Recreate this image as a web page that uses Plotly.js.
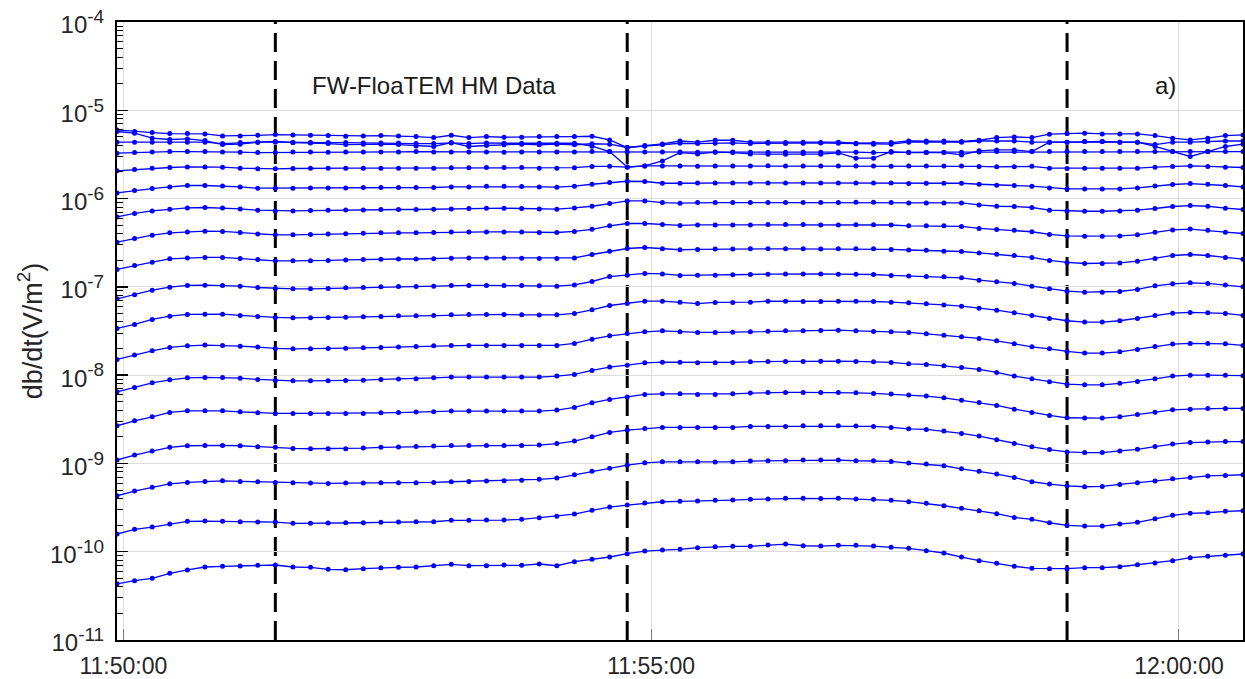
<!DOCTYPE html>
<html><head><meta charset="utf-8">
<script src="https://cdn.plot.ly/plotly-3.0.1.min.js"></script>
<style>html,body{margin:0;padding:0;background:#fff}#chart{width:1245px;height:679px}</style>
</head><body><div id="chart"></div>
<script>
// sample times (10 s cadence)
const sampleTimes = [
"11:49:56.4","11:50:06.4","11:50:16.4","11:50:26.4","11:50:36.4","11:50:46.4","11:50:56.4",
"11:51:06.4","11:51:16.4","11:51:26.4","11:51:36.4","11:51:46.4","11:51:56.4",
"11:52:06.4","11:52:16.4","11:52:26.4","11:52:36.4","11:52:46.4","11:52:56.4",
"11:53:06.4","11:53:16.4","11:53:26.4","11:53:36.4","11:53:46.4","11:53:56.4",
"11:54:06.4","11:54:16.4","11:54:26.4","11:54:36.4","11:54:46.4","11:54:56.4",
"11:55:06.4","11:55:16.4","11:55:26.4","11:55:36.4","11:55:46.4","11:55:56.4",
"11:56:06.4","11:56:16.4","11:56:26.4","11:56:36.4","11:56:46.4","11:56:56.4",
"11:57:06.4","11:57:16.4","11:57:26.4","11:57:36.4","11:57:46.4","11:57:56.4",
"11:58:06.4","11:58:16.4","11:58:26.4","11:58:36.4","11:58:46.4","11:58:56.4",
"11:59:06.4","11:59:16.4","11:59:26.4","11:59:36.4","11:59:46.4","11:59:56.4",
"12:00:06.4","12:00:16.4","12:00:26.4","12:00:36.4"];

const gate01 = [5.99e-6,5.75e-6,5.59e-6,5.45e-6,5.45e-6,5.40e-6,5.12e-6,5.12e-6,5.21e-6,5.31e-6,
5.26e-6,5.21e-6,5.17e-6,5.08e-6,5.12e-6,5.17e-6,5.12e-6,5.04e-6,4.91e-6,5.21e-6,
4.91e-6,5.04e-6,4.95e-6,4.95e-6,5.04e-6,5.04e-6,5.04e-6,5.08e-6,4.62e-6,3.79e-6,
3.99e-6,4.16e-6,4.49e-6,4.35e-6,4.58e-6,4.58e-6,4.35e-6,4.35e-6,4.31e-6,4.35e-6,
4.31e-6,4.35e-6,4.23e-6,4.23e-6,4.31e-6,4.49e-6,4.49e-6,4.49e-6,4.43e-6,4.58e-6,
4.91e-6,4.99e-6,4.91e-6,5.36e-6,5.45e-6,5.50e-6,5.40e-6,5.40e-6,5.40e-6,5.17e-6,
4.83e-6,4.62e-6,4.83e-6,5.17e-6,5.26e-6];
const gate02 = [5.75e-6,5.50e-6,4.83e-6,4.67e-6,4.74e-6,4.54e-6,4.09e-6,4.13e-6,4.35e-6,4.43e-6,
4.31e-6,4.27e-6,4.20e-6,4.09e-6,4.13e-6,4.13e-6,4.09e-6,3.95e-6,3.89e-6,4.31e-6,
3.89e-6,3.99e-6,4.07e-6,4.13e-6,4.07e-6,4.13e-6,4.07e-6,4.18e-6,4.13e-6,3.79e-6,
3.92e-6,4.09e-6,4.23e-6,4.20e-6,4.23e-6,4.27e-6,4.20e-6,4.23e-6,4.20e-6,4.23e-6,
4.27e-6,4.23e-6,4.18e-6,4.13e-6,4.13e-6,4.35e-6,4.35e-6,4.35e-6,4.35e-6,4.49e-6,
4.49e-6,4.49e-6,4.35e-6,4.35e-6,4.35e-6,4.43e-6,4.43e-6,4.35e-6,4.35e-6,4.09e-6,
4.35e-6,4.35e-6,4.43e-6,4.49e-6,4.49e-6];
const gate03 = [4.35e-6,4.35e-6,4.35e-6,4.35e-6,4.35e-6,4.35e-6,4.20e-6,4.31e-6,4.35e-6,4.35e-6,
4.31e-6,4.31e-6,4.31e-6,4.31e-6,4.27e-6,4.27e-6,4.27e-6,4.20e-6,4.20e-6,4.27e-6,
4.20e-6,4.27e-6,4.23e-6,4.23e-6,4.23e-6,4.23e-6,4.23e-6,3.92e-6,3.41e-6,2.28e-6,
2.34e-6,2.67e-6,3.32e-6,3.20e-6,3.35e-6,3.32e-6,3.20e-6,3.18e-6,3.18e-6,3.23e-6,
3.18e-6,3.29e-6,2.87e-6,2.87e-6,3.41e-6,3.32e-6,3.32e-6,3.32e-6,3.12e-6,3.47e-6,
3.56e-6,3.56e-6,3.41e-6,4.35e-6,4.35e-6,4.43e-6,4.43e-6,4.35e-6,4.35e-6,3.89e-6,
3.41e-6,3.00e-6,3.41e-6,3.89e-6,4.13e-6];
const gate04 = [3.27e-6,3.32e-6,3.38e-6,3.41e-6,3.41e-6,3.41e-6,3.38e-6,3.35e-6,3.32e-6,3.32e-6,
3.38e-6,3.38e-6,3.35e-6,3.38e-6,3.38e-6,3.38e-6,3.38e-6,3.41e-6,3.38e-6,3.38e-6,
3.38e-6,3.38e-6,3.35e-6,3.38e-6,3.38e-6,3.38e-6,3.38e-6,3.41e-6,3.41e-6,3.38e-6,
3.38e-6,3.38e-6,3.38e-6,3.35e-6,3.38e-6,3.38e-6,3.35e-6,3.35e-6,3.35e-6,3.38e-6,
3.35e-6,3.38e-6,3.35e-6,3.32e-6,3.35e-6,3.35e-6,3.35e-6,3.35e-6,3.35e-6,3.38e-6,
3.41e-6,3.41e-6,3.41e-6,3.41e-6,3.41e-6,3.41e-6,3.41e-6,3.41e-6,3.41e-6,3.41e-6,
3.41e-6,3.41e-6,3.41e-6,3.41e-6,3.41e-6];
const gate05 = [2.06e-6,2.13e-6,2.21e-6,2.25e-6,2.28e-6,2.28e-6,2.27e-6,2.21e-6,2.17e-6,2.17e-6,
2.19e-6,2.21e-6,2.21e-6,2.21e-6,2.21e-6,2.21e-6,2.21e-6,2.21e-6,2.21e-6,2.23e-6,
2.23e-6,2.25e-6,2.25e-6,2.25e-6,2.21e-6,2.21e-6,2.24e-6,2.31e-6,2.32e-6,2.27e-6,
2.34e-6,2.34e-6,2.34e-6,2.33e-6,2.34e-6,2.34e-6,2.34e-6,2.35e-6,2.34e-6,2.34e-6,
2.34e-6,2.34e-6,2.34e-6,2.34e-6,2.33e-6,2.34e-6,2.34e-6,2.34e-6,2.34e-6,2.31e-6,
2.29e-6,2.29e-6,2.32e-6,2.21e-6,2.19e-6,2.21e-6,2.21e-6,2.21e-6,2.21e-6,2.27e-6,
2.31e-6,2.34e-6,2.31e-6,2.27e-6,2.25e-6];
const gate06 = [1.160e-6,1.234e-6,1.299e-6,1.356e-6,1.406e-6,1.406e-6,1.391e-6,1.356e-6,1.310e-6,1.310e-6,
1.310e-6,1.320e-6,1.320e-6,1.320e-6,1.334e-6,1.334e-6,1.334e-6,1.334e-6,1.334e-6,1.356e-6,
1.356e-6,1.380e-6,1.380e-6,1.369e-6,1.356e-6,1.345e-6,1.380e-6,1.453e-6,1.520e-6,1.572e-6,
1.560e-6,1.491e-6,1.491e-6,1.503e-6,1.503e-6,1.503e-6,1.503e-6,1.503e-6,1.503e-6,1.503e-6,
1.503e-6,1.503e-6,1.503e-6,1.503e-6,1.503e-6,1.480e-6,1.491e-6,1.491e-6,1.491e-6,1.453e-6,
1.417e-6,1.406e-6,1.380e-6,1.320e-6,1.286e-6,1.286e-6,1.286e-6,1.286e-6,1.320e-6,1.391e-6,
1.443e-6,1.480e-6,1.453e-6,1.406e-6,1.356e-6];
const gate07 = [6.20e-7,6.78e-7,7.24e-7,7.58e-7,7.84e-7,7.92e-7,7.84e-7,7.64e-7,7.38e-7,7.25e-7,
7.25e-7,7.32e-7,7.38e-7,7.44e-7,7.44e-7,7.52e-7,7.52e-7,7.52e-7,7.58e-7,7.64e-7,
7.72e-7,7.78e-7,7.78e-7,7.72e-7,7.64e-7,7.58e-7,7.84e-7,8.19e-7,8.79e-7,9.41e-7,
9.41e-7,9.02e-7,8.86e-7,9.02e-7,9.02e-7,9.02e-7,9.02e-7,9.02e-7,9.02e-7,9.02e-7,
9.02e-7,9.02e-7,9.10e-7,9.10e-7,9.02e-7,8.93e-7,8.93e-7,8.93e-7,8.93e-7,8.48e-7,
8.19e-7,8.13e-7,7.92e-7,7.38e-7,7.24e-7,7.18e-7,7.18e-7,7.24e-7,7.38e-7,7.72e-7,
8.13e-7,8.34e-7,8.19e-7,7.78e-7,7.52e-7];
const gate08 = [3.21e-7,3.53e-7,3.85e-7,4.09e-7,4.19e-7,4.27e-7,4.24e-7,4.13e-7,3.96e-7,3.88e-7,
3.88e-7,3.92e-7,3.96e-7,3.99e-7,4.05e-7,4.09e-7,4.09e-7,4.09e-7,4.13e-7,4.19e-7,
4.19e-7,4.19e-7,4.19e-7,4.19e-7,4.13e-7,4.13e-7,4.24e-7,4.48e-7,4.91e-7,5.22e-7,
5.22e-7,5.08e-7,4.96e-7,5.03e-7,5.03e-7,5.03e-7,5.03e-7,5.08e-7,5.08e-7,5.08e-7,
5.03e-7,5.03e-7,5.06e-7,5.06e-7,5.02e-7,4.91e-7,4.91e-7,4.91e-7,4.84e-7,4.59e-7,
4.45e-7,4.37e-7,4.21e-7,3.93e-7,3.77e-7,3.75e-7,3.75e-7,3.77e-7,3.88e-7,4.16e-7,
4.42e-7,4.51e-7,4.37e-7,4.16e-7,4.02e-7];
const gate09 = [1.574e-7,1.747e-7,1.904e-7,2.075e-7,2.129e-7,2.152e-7,2.152e-7,2.096e-7,2.043e-7,1.970e-7,
1.970e-7,1.970e-7,1.990e-7,2.021e-7,2.043e-7,2.059e-7,2.069e-7,2.069e-7,2.075e-7,2.113e-7,
2.129e-7,2.129e-7,2.129e-7,2.113e-7,2.096e-7,2.096e-7,2.129e-7,2.326e-7,2.535e-7,2.720e-7,
2.792e-7,2.694e-7,2.633e-7,2.658e-7,2.676e-7,2.676e-7,2.694e-7,2.694e-7,2.694e-7,2.694e-7,
2.676e-7,2.694e-7,2.694e-7,2.694e-7,2.658e-7,2.614e-7,2.596e-7,2.535e-7,2.515e-7,2.426e-7,
2.345e-7,2.267e-7,2.152e-7,1.990e-7,1.889e-7,1.840e-7,1.840e-7,1.869e-7,1.955e-7,2.096e-7,
2.267e-7,2.326e-7,2.267e-7,2.152e-7,2.059e-7];
const gate10 = [7.31e-8,8.12e-8,9.17e-8,9.92e-8,1.037e-7,1.045e-7,1.037e-7,1.019e-7,9.84e-8,9.59e-8,
9.49e-8,9.49e-8,9.59e-8,9.74e-8,9.84e-8,1.000e-7,1.010e-7,1.012e-7,1.019e-7,1.037e-7,
1.037e-7,1.037e-7,1.037e-7,1.037e-7,1.027e-7,1.019e-7,1.053e-7,1.150e-7,1.307e-7,1.357e-7,
1.418e-7,1.402e-7,1.346e-7,1.357e-7,1.357e-7,1.368e-7,1.381e-7,1.393e-7,1.402e-7,1.402e-7,
1.398e-7,1.393e-7,1.393e-7,1.381e-7,1.346e-7,1.331e-7,1.307e-7,1.298e-7,1.264e-7,1.190e-7,
1.139e-7,1.093e-7,1.019e-7,9.49e-8,8.93e-8,8.71e-8,8.71e-8,8.86e-8,9.34e-8,1.027e-7,
1.082e-7,1.110e-7,1.093e-7,1.053e-7,1.000e-7];
const gate11 = [3.38e-8,3.75e-8,4.28e-8,4.66e-8,4.87e-8,4.91e-8,4.91e-8,4.75e-8,4.62e-8,4.50e-8,
4.46e-8,4.46e-8,4.50e-8,4.54e-8,4.58e-8,4.62e-8,4.70e-8,4.72e-8,4.75e-8,4.82e-8,
4.87e-8,4.87e-8,4.87e-8,4.82e-8,4.79e-8,4.82e-8,5.00e-8,5.49e-8,6.15e-8,6.46e-8,
6.89e-8,6.89e-8,6.71e-8,6.46e-8,6.66e-8,6.66e-8,6.71e-8,6.89e-8,6.89e-8,6.83e-8,
6.83e-8,6.89e-8,6.89e-8,6.83e-8,6.71e-8,6.59e-8,6.42e-8,6.25e-8,6.04e-8,5.74e-8,
5.45e-8,5.08e-8,4.75e-8,4.39e-8,4.13e-8,3.99e-8,3.99e-8,4.13e-8,4.39e-8,4.75e-8,
5.04e-8,5.13e-8,5.08e-8,5.00e-8,4.75e-8];
const gate12 = [1.507e-8,1.686e-8,1.886e-8,2.060e-8,2.148e-8,2.188e-8,2.171e-8,2.131e-8,2.077e-8,2.008e-8,
1.987e-8,1.987e-8,2.008e-8,2.023e-8,2.039e-8,2.060e-8,2.077e-8,2.116e-8,2.148e-8,2.171e-8,
2.171e-8,2.171e-8,2.171e-8,2.171e-8,2.171e-8,2.171e-8,2.286e-8,2.558e-8,2.788e-8,2.963e-8,
3.093e-8,3.176e-8,3.093e-8,3.045e-8,3.045e-8,3.069e-8,3.093e-8,3.151e-8,3.176e-8,3.176e-8,
3.209e-8,3.235e-8,3.176e-8,3.127e-8,3.093e-8,3.045e-8,2.936e-8,2.839e-8,2.716e-8,2.605e-8,
2.447e-8,2.263e-8,2.093e-8,1.987e-8,1.857e-8,1.776e-8,1.776e-8,1.837e-8,1.956e-8,2.116e-8,
2.246e-8,2.286e-8,2.286e-8,2.263e-8,2.171e-8];
const gate13 = [6.47e-9,7.26e-9,8.18e-9,8.85e-9,9.32e-9,9.42e-9,9.42e-9,9.25e-9,8.94e-9,8.72e-9,
8.63e-9,8.63e-9,8.63e-9,8.72e-9,8.78e-9,8.94e-9,9.02e-9,9.09e-9,9.32e-9,9.50e-9,
9.50e-9,9.50e-9,9.50e-9,9.50e-9,9.50e-9,9.75e-9,1.019e-8,1.131e-8,1.233e-8,1.298e-8,
1.379e-8,1.404e-8,1.404e-8,1.379e-8,1.379e-8,1.393e-8,1.416e-8,1.430e-8,1.430e-8,1.430e-8,
1.441e-8,1.441e-8,1.430e-8,1.416e-8,1.393e-8,1.344e-8,1.323e-8,1.275e-8,1.223e-8,1.161e-8,
1.074e-8,9.75e-9,9.09e-9,8.40e-9,7.91e-9,7.77e-9,7.77e-9,8.08e-9,8.49e-9,9.09e-9,
9.75e-9,1.000e-8,1.000e-8,1.000e-8,9.85e-9];
const gate14 = [2.669e-9,3.041e-9,3.375e-9,3.785e-9,3.946e-9,3.946e-9,3.946e-9,3.845e-9,3.746e-9,3.686e-9,
3.686e-9,3.686e-9,3.686e-9,3.686e-9,3.686e-9,3.746e-9,3.766e-9,3.834e-9,3.845e-9,3.915e-9,
3.915e-9,3.915e-9,3.915e-9,3.915e-9,3.915e-9,4.016e-9,4.310e-9,4.860e-9,5.310e-9,5.667e-9,
6.05e-9,6.15e-9,6.15e-9,6.05e-9,6.05e-9,6.15e-9,6.26e-9,6.37e-9,6.37e-9,6.37e-9,
6.37e-9,6.37e-9,6.31e-9,6.21e-9,6.10e-9,5.94e-9,5.79e-9,5.54e-9,5.21e-9,4.91e-9,
4.54e-9,4.12e-9,3.785e-9,3.50e-9,3.29e-9,3.26e-9,3.26e-9,3.375e-9,3.59e-9,3.81e-9,
4.05e-9,4.12e-9,4.20e-9,4.20e-9,4.20e-9];
const gate15 = [1.092e-9,1.243e-9,1.380e-9,1.520e-9,1.585e-9,1.601e-9,1.601e-9,1.585e-9,1.542e-9,1.520e-9,
1.480e-9,1.466e-9,1.466e-9,1.466e-9,1.492e-9,1.520e-9,1.531e-9,1.551e-9,1.572e-9,1.593e-9,
1.593e-9,1.593e-9,1.593e-9,1.601e-9,1.614e-9,1.678e-9,1.791e-9,2.004e-9,2.246e-9,2.385e-9,
2.494e-9,2.560e-9,2.560e-9,2.560e-9,2.560e-9,2.560e-9,2.627e-9,2.627e-9,2.627e-9,2.669e-9,
2.669e-9,2.669e-9,2.648e-9,2.627e-9,2.560e-9,2.468e-9,2.430e-9,2.324e-9,2.189e-9,2.041e-9,
1.853e-9,1.687e-9,1.542e-9,1.434e-9,1.351e-9,1.327e-9,1.327e-9,1.387e-9,1.446e-9,1.551e-9,
1.656e-9,1.723e-9,1.754e-9,1.768e-9,1.768e-9];
const gate16 = [4.30e-10,4.86e-10,5.36e-10,5.88e-10,6.10e-10,6.26e-10,6.36e-10,6.26e-10,6.20e-10,6.10e-10,
6.04e-10,5.99e-10,5.94e-10,5.99e-10,5.99e-10,6.04e-10,6.04e-10,6.04e-10,6.10e-10,6.20e-10,
6.26e-10,6.31e-10,6.36e-10,6.43e-10,6.60e-10,6.83e-10,7.44e-10,8.13e-10,8.79e-10,9.58e-10,
1.017e-9,1.044e-9,1.044e-9,1.044e-9,1.036e-9,1.044e-9,1.064e-9,1.072e-9,1.072e-9,1.092e-9,
1.092e-9,1.092e-9,1.072e-9,1.072e-9,1.055e-9,1.010e-9,9.83e-10,9.41e-10,8.70e-10,8.13e-10,
7.58e-10,6.95e-10,6.20e-10,5.84e-10,5.58e-10,5.44e-10,5.49e-10,5.79e-10,6.04e-10,6.31e-10,
6.70e-10,6.95e-10,7.22e-10,7.32e-10,7.44e-10];
const gate17 = [1.586e-10,1.792e-10,1.903e-10,2.058e-10,2.208e-10,2.225e-10,2.208e-10,2.185e-10,2.168e-10,2.168e-10,
2.096e-10,2.096e-10,2.112e-10,2.129e-10,2.129e-10,2.151e-10,2.168e-10,2.185e-10,2.185e-10,2.266e-10,
2.266e-10,2.282e-10,2.282e-10,2.326e-10,2.425e-10,2.515e-10,2.671e-10,2.941e-10,3.205e-10,3.378e-10,
3.558e-10,3.680e-10,3.719e-10,3.749e-10,3.818e-10,3.848e-10,3.920e-10,3.949e-10,4.020e-10,4.020e-10,
4.000e-10,4.020e-10,3.949e-10,3.920e-10,3.818e-10,3.690e-10,3.530e-10,3.316e-10,3.098e-10,2.911e-10,
2.693e-10,2.448e-10,2.326e-10,2.129e-10,1.990e-10,1.954e-10,1.954e-10,2.058e-10,2.151e-10,2.361e-10,
2.582e-10,2.720e-10,2.763e-10,2.866e-10,2.911e-10];
const gate18 = [4.33e-11,4.70e-11,5.00e-11,5.70e-11,6.21e-11,6.71e-11,6.83e-11,6.89e-11,7.02e-11,7.07e-11,
6.71e-11,6.66e-11,6.32e-11,6.25e-11,6.42e-11,6.59e-11,6.66e-11,6.71e-11,6.94e-11,7.20e-11,
6.94e-11,6.94e-11,7.07e-11,7.02e-11,7.26e-11,6.94e-11,7.71e-11,8.20e-11,8.71e-11,9.49e-11,
1.018e-10,1.045e-10,1.064e-10,1.110e-10,1.139e-10,1.150e-10,1.150e-10,1.190e-10,1.222e-10,1.169e-10,
1.159e-10,1.181e-10,1.181e-10,1.159e-10,1.121e-10,1.093e-10,1.026e-10,9.67e-11,8.71e-11,7.91e-11,
7.39e-11,6.83e-11,6.49e-11,6.42e-11,6.42e-11,6.59e-11,6.59e-11,6.76e-11,7.13e-11,7.45e-11,
7.91e-11,8.55e-11,8.87e-11,9.11e-11,9.42e-11];

const sectionTimes = ["11:51:26.4","11:54:46.4","11:58:56.4"];
const xTickTimes = ["11:50:00","11:55:00","12:00:00"];
const xTickLabels = ["11:50:00","11:55:00","12:00:00"];
const yTickValues = [1e-11,1e-10,1e-9,1e-8,1e-7,1e-6,1e-5,1e-4];
const yTickExponents = ["-11","-10","-9","-8","-7","-6","-5","-4"];
const yTitle = "db/dt(V/m<sup>2</sup>)";
const panelTitle = "FW-FloaTEM HM Data";
const panelLabel = "a)";

const DAY = "2020-01-01 ";
const toDate = t => DAY + t;
const FONT = "Liberation Sans, Arial, Helvetica, sans-serif";
const gates = [gate01,gate02,gate03,gate04,gate05,gate06,gate07,gate08,gate09,
               gate10,gate11,gate12,gate13,gate14,gate15,gate16,gate17,gate18];
const xDates = sampleTimes.map(toDate);
const yTickText = yTickExponents.map(e => "10<sup><span style='font-size:19px'>" + e + "</span></sup>");

const traces = gates.map(g => ({
  x: xDates, y: g, type: "scatter", mode: "lines+markers",
  line: {color: "#0000ff", width: 1.3},
  marker: {color: "#0000ff", size: 5},
  hoverinfo: "skip", showlegend: false
}));

// minor ticks 2..9 per decade
const minorVals = [];
for (let e = -11; e < -4; e++) for (let m = 2; m <= 9; m++) minorVals.push(m * Math.pow(10, e));

const shapes = sectionTimes.map(t => ({
  type: "line", xref: "x", yref: "paper", x0: toDate(t), x1: toDate(t), y0: 0, y1: 1,
  line: {color: "#000", width: 3, dash: "19px,9px"}, layer: "between"
}));

const layout = {
  width: 1245, height: 679,
  margin: {l: 117, r: 2, t: 22, b: 39},
  paper_bgcolor: "#fff", plot_bgcolor: "#fff",
  font: {family: FONT, color: "#262626"},
  showlegend: false,
  xaxis: {
    type: "date",
    range: [xDates[0], xDates[xDates.length - 1]],
    tickmode: "array", tickvals: xTickTimes.map(toDate), ticktext: xTickLabels,
    ticks: "inside", ticklen: 11, tickwidth: 1, tickcolor: "#777",
    ticklabelstandoff: 4,
    showgrid: true, gridcolor: "#dcdcdc", gridwidth: 1,
    showline: true, linecolor: "#000", linewidth: 2, mirror: true,
    zeroline: false,
    tickfont: {family: FONT, size: 23, color: "#262626"}
  },
  yaxis: {
    type: "log", range: [-11, -4],
    tickmode: "array", tickvals: yTickValues, ticktext: yTickText,
    ticks: "inside", ticklen: 11, tickwidth: 1.5, tickcolor: "#000",
    ticklabelstandoff: 6, ticklabelshift: 3,
    minor: {tickmode: "array", tickvals: minorVals, ticks: "inside", ticklen: 6, tickwidth: 1, tickcolor: "#000", showgrid: false},
    showgrid: true, gridcolor: "#dcdcdc", gridwidth: 1,
    showline: true, linecolor: "#000", linewidth: 2, mirror: true,
    zeroline: false,
    tickfont: {family: FONT, size: 24, color: "#262626"},
    title: {text: yTitle, font: {family: FONT, size: 27, color: "#262626"}, standoff: 0}
  },
  shapes: shapes,
  annotations: [
    {xref: "paper", yref: "paper", x: 0.2813, y: 0.8973, xanchor: "center", yanchor: "middle",
     text: panelTitle, showarrow: false, font: {family: FONT, size: 24, color: "#1a1a1a"}},
    {xref: "paper", yref: "paper", x: 0.9312, y: 0.8973, xanchor: "center", yanchor: "middle",
     text: panelLabel, showarrow: false, font: {family: FONT, size: 24, color: "#1a1a1a"}}
  ]
};

Plotly.newPlot("chart", traces, layout, {staticPlot: true, displayModeBar: false});
</script>
</body></html>
